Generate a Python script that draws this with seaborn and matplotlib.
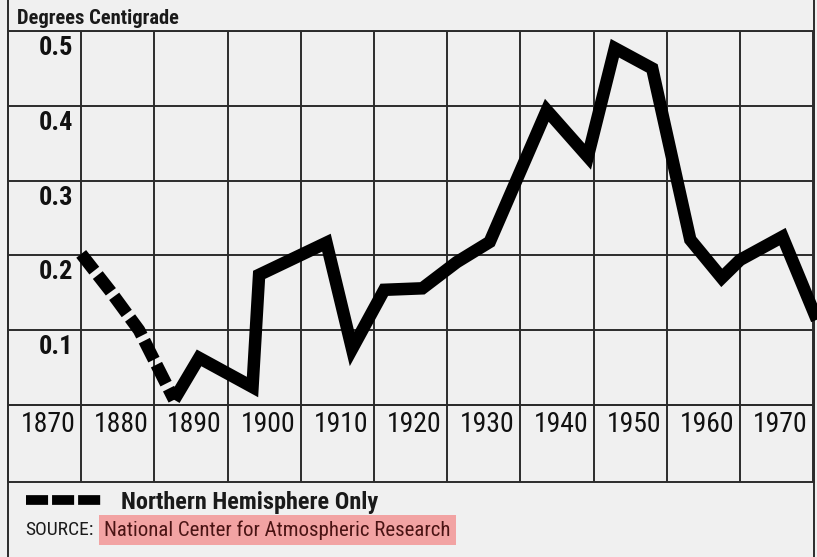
import matplotlib
matplotlib.use("Agg")
import matplotlib.pyplot as plt
from matplotlib.lines import Line2D
from matplotlib.transforms import ScaledTranslation
from matplotlib import font_manager
import seaborn as sns
import pandas as pd

# ---- data ----
dashed_years = [1870.0, 1874.0, 1877.9, 1882.7]
dashed_vals = [0.202, 0.152, 0.100, 0.007]

solid_years = [1882.7, 1886.1, 1893.4, 1894.3, 1903.5, 1907.0, 1911.4, 1916.6,
               1921.3, 1925.8, 1933.6, 1939.2, 1942.9, 1948.0, 1953.2, 1957.5,
               1960.0, 1965.8, 1970.5]
solid_vals = [0.007, 0.063, 0.024, 0.174, 0.217, 0.075, 0.154, 0.156,
              0.191, 0.218, 0.394, 0.332, 0.477, 0.450, 0.221, 0.170,
              0.194, 0.225, 0.114]

x_ticks = [1870, 1880, 1890, 1900, 1910, 1920, 1930, 1940, 1950, 1960, 1970]
x_labels = ["1870", "1880", "1890", "1900", "1910", "1920", "1930", "1940", "1950", "1960", "1970"]
y_ticks = [0.1, 0.2, 0.3, 0.4, 0.5]
y_labels = ["0.1", "0.2", "0.3", "0.4", "0.5"]

unit_label = "Degrees Centigrade"
legend_label = "Northern Hemisphere Only"
source_prefix = "SOURCE:"
source_text = "National Center for Atmospheric Research"

# ---- style ----
sns.set_style("white")
installed = {f.name for f in font_manager.fontManager.ttflist}
narrow = [n for n in ["Roboto Condensed", "DejaVu Sans Condensed", "Liberation Sans Narrow",
                      "Open Sans Condensed", "Roboto", "DejaVu Sans"] if n in installed]
FAM = narrow[0] if narrow else "DejaVu Sans"
plt.rcParams["font.family"] = [FAM, "DejaVu Sans"]

BG = "#f0f0f0"
GRID = "#2b2b2b"
W, H = 817, 557
fig = plt.figure(figsize=(W / 100, H / 100), dpi=100, facecolor=BG)

L, R = 8, 814
top_px, axis_px, band_px = 31, 405, 482

def fx(px):
    return px / W

def fy(px):
    return 1 - px / H

# frame (outer vertical borders)
frame = fig.add_axes([fx(L), 0, fx(R - L), 1], zorder=0)
frame.set_facecolor("none")
frame.set_xticks([])
frame.set_yticks([])
for s in ["top", "bottom"]:
    frame.spines[s].set_visible(False)
for s in ["left", "right"]:
    frame.spines[s].set_color(GRID)
    frame.spines[s].set_linewidth(1.4)

ax = fig.add_axes([fx(L), fy(axis_px), fx(R - L), fy(top_px) - fy(axis_px)], zorder=2)
band = fig.add_axes([fx(L), fy(band_px), fx(R - L), fy(axis_px) - fy(band_px)],
                    sharex=ax, zorder=1)

for a in (ax, band):
    a.set_facecolor("none")
    for s in a.spines.values():
        s.set_color(GRID)
        s.set_linewidth(1.4)

df_d = pd.DataFrame({"year": dashed_years, "val": dashed_vals})
df_s = pd.DataFrame({"year": solid_years, "val": solid_vals})

sns.lineplot(data=df_s, x="year", y="val", ax=ax, color="black", linewidth=9,
             sort=False, estimator=None, solid_joinstyle="miter",
             solid_capstyle="butt", clip_on=False, zorder=5)
sns.lineplot(data=df_d, x="year", y="val", ax=ax, color="black", linewidth=9,
             sort=False, estimator=None, linestyle=(0, (1.7, 0.45)),
             dash_capstyle="butt", clip_on=False, zorder=5)

ax.set_xlim(1860.0, 1970.1)
ax.set_ylim(0, 0.5)
ax.set_xlabel("")
ax.set_ylabel("")

ax.set_xticks(x_ticks)
ax.set_xticklabels(x_labels)
ax.set_yticks(y_ticks)
ax.set_yticklabels(y_labels)
ax.grid(True, color=GRID, linewidth=1.4)
band.grid(True, axis="x", color=GRID, linewidth=1.4)
band.set_yticks([])
band.tick_params(axis="x", length=0, labelbottom=False)

ax.tick_params(axis="x", length=0, pad=4, labelsize=20, labelcolor="#111111")
ax.tick_params(axis="y", length=0, pad=-47, labelsize=19, labelcolor="#111111")

for lbl in ax.get_xticklabels():
    lbl.set_horizontalalignment("right")
    lbl.set_fontstretch("condensed")
    lbl.set_transform(lbl.get_transform() + ScaledTranslation(-0.055, 0, fig.dpi_scale_trans))
for lbl in ax.get_yticklabels():
    lbl.set_fontweight("bold")
    lbl.set_fontstretch("condensed")
    lbl.set_verticalalignment("center")
    lbl.set_transform(lbl.get_transform() + ScaledTranslation(0, -0.17, fig.dpi_scale_trans))

# header
fig.text(fx(17), fy(18), unit_label, fontsize=14.8, fontweight="bold",
         fontstretch="condensed", color="#1a1a1a", ha="left", va="center")

# legend
handle = Line2D([], [], color="black", linewidth=7, linestyle=(0, (2.27, 0.41)),
                dash_capstyle="butt")
fig.legend(handles=[handle], labels=[legend_label], loc="center left",
           bbox_to_anchor=(fx(26), fy(502)), frameon=False, handlelength=3.1,
           handletextpad=0.8, borderpad=0, borderaxespad=0,
           prop={"size": 17.5, "weight": "bold", "stretch": "condensed"},
           labelcolor="#1a1a1a")

fig.text(fx(25), fy(530), source_prefix, fontsize=14, color="#1a1a1a",
         fontstretch="condensed", ha="left", va="center")
fig.text(fx(104), fy(530), source_text, fontsize=15, color="#4a1414",
         fontstretch="condensed", ha="left", va="center",
         bbox=dict(boxstyle="square,pad=0.25", facecolor="#f2a3a3", edgecolor="none"))

fig.savefig("out.png", dpi=100, facecolor=BG)
